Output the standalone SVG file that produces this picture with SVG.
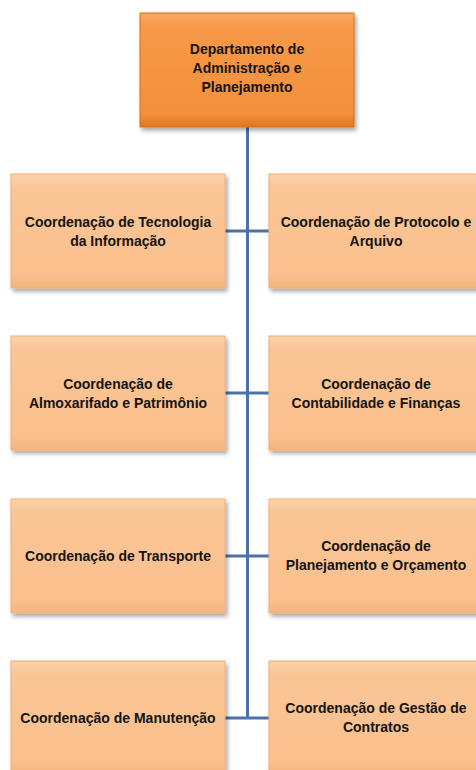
<svg xmlns="http://www.w3.org/2000/svg" width="476" height="770" viewBox="0 0 476 770">
<defs>
<linearGradient id="gPeach" x1="0" y1="0" x2="0" y2="1">
<stop offset="0" stop-color="#FCD3AA"/>
<stop offset="0.12" stop-color="#FAC596"/>
<stop offset="0.88" stop-color="#FAC08D"/>
<stop offset="1" stop-color="#F5B47C"/>
</linearGradient>
<linearGradient id="gOrange" x1="0" y1="0" x2="0" y2="1">
<stop offset="0" stop-color="#FBAA62"/>
<stop offset="0.12" stop-color="#F79A48"/>
<stop offset="0.88" stop-color="#F38F3A"/>
<stop offset="1" stop-color="#E0771F"/>
</linearGradient>
<filter id="sh" x="-10%" y="-10%" width="125%" height="130%">
<feDropShadow dx="2" dy="3" stdDeviation="2" flood-color="#000" flood-opacity="0.35"/>
</filter>
</defs>
<style>
.box{fill:url(#gPeach);stroke:#F3AE72;stroke-width:1;filter:url(#sh)}
.top{fill:url(#gOrange);stroke:#D96F14;stroke-width:1;filter:url(#sh)}
.t{font-family:"Liberation Sans","DejaVu Sans",sans-serif;font-weight:bold;font-size:14px;fill:#141414;text-anchor:middle}
.c{stroke:#4A72A8;stroke-width:3;fill:none}
</style>
<rect width="476" height="770" fill="#FFFFFF"/>
<g id="connectors">
<line class="c" x1="247.5" y1="127" x2="247.5" y2="718"/>
<line class="c" x1="225" y1="231" x2="269" y2="231"/>
<line class="c" x1="225" y1="393" x2="269" y2="393"/>
<line class="c" x1="225" y1="556" x2="269" y2="556"/>
<line class="c" x1="225" y1="718" x2="269" y2="718"/>
</g>
<g id="dept">
<rect class="top" x="140" y="13" width="214" height="114"/>
<text class="t" x="247" y="54">Departamento de</text>
<text class="t" x="247" y="73">Administração e</text>
<text class="t" x="247" y="92">Planejamento</text>
</g>
<g id="ti">
<rect class="box" x="11" y="174" width="214" height="114"/>
<text class="t" x="118" y="227">Coordenação de Tecnologia</text>
<text class="t" x="118" y="246">da Informação</text>
</g>
<g id="protocolo">
<rect class="box" x="269" y="174" width="214" height="114"/>
<text class="t" x="376" y="227">Coordenação de Protocolo e</text>
<text class="t" x="376" y="246">Arquivo</text>
</g>
<g id="almox">
<rect class="box" x="11" y="336" width="214" height="114"/>
<text class="t" x="118" y="389">Coordenação de</text>
<text class="t" x="118" y="408">Almoxarifado e Patrimônio</text>
</g>
<g id="contab">
<rect class="box" x="269" y="336" width="214" height="114"/>
<text class="t" x="376" y="389">Coordenação de</text>
<text class="t" x="376" y="408">Contabilidade e Finanças</text>
</g>
<g id="transporte">
<rect class="box" x="11" y="499" width="214" height="114"/>
<text class="t" x="118" y="561">Coordenação de Transporte</text>
</g>
<g id="planejamento">
<rect class="box" x="269" y="499" width="214" height="114"/>
<text class="t" x="376" y="551">Coordenação de</text>
<text class="t" x="376" y="570">Planejamento e Orçamento</text>
</g>
<g id="manutencao">
<rect class="box" x="11" y="661" width="214" height="114"/>
<text class="t" x="118" y="723">Coordenação de Manutenção</text>
</g>
<g id="contratos">
<rect class="box" x="269" y="661" width="214" height="114"/>
<text class="t" x="376" y="713">Coordenação de Gestão de</text>
<text class="t" x="376" y="732">Contratos</text>
</g>
</svg>
